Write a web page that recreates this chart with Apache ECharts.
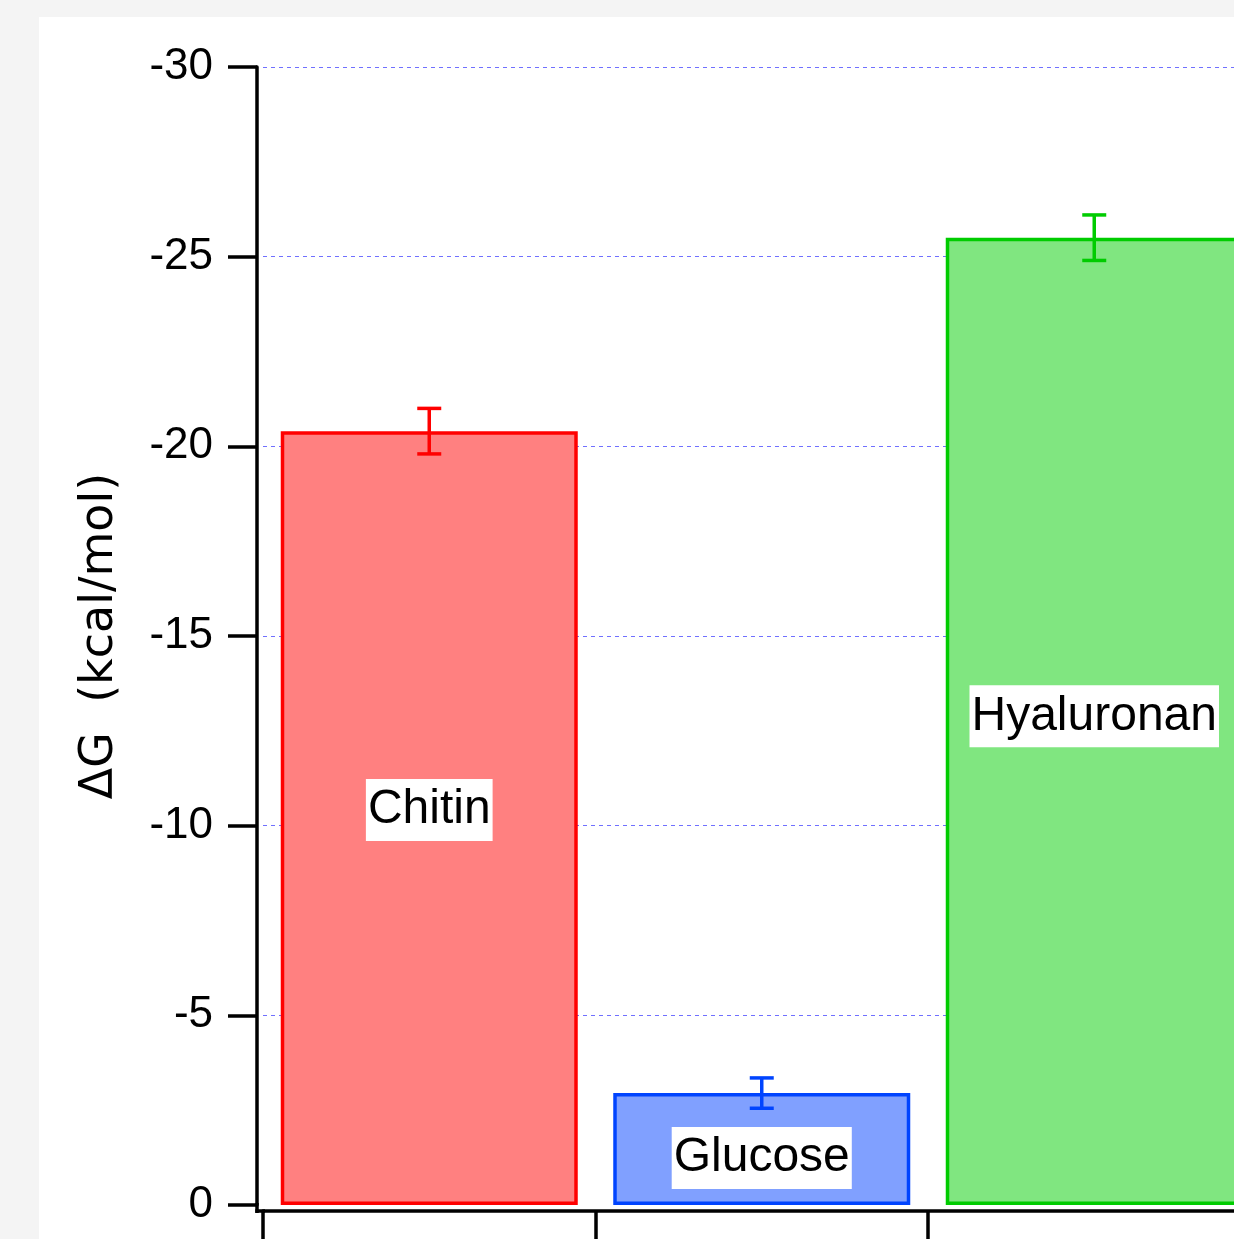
<!DOCTYPE html>
<html>
<head>
<meta charset="utf-8">
<script src="https://cdn.jsdelivr.net/npm/echarts@6/dist/echarts.min.js"></script>
<style>
html,body{margin:0;padding:0;background:#f4f4f4;overflow:hidden;}
#chart{width:1300px;height:1239px;}
</style>
</head>
<body>
<div id="chart"></div>
<script>
// ---- data ----
const categories = ['Chitin', 'Glucose', 'Hyaluronan'];
const deltaG = [-20.4, -2.95, -25.5];
const deltaGErr = [0.6, 0.4, 0.6];
const yTicks = [0, -5, -10, -15, -20, -25, -30];

const fillColors = ['#ff8080', '#80a0ff', '#80e680'];
const lineColors = ['#ff0000', '#0044ff', '#00cc00'];
const labelOffsets = [-8, 9, -5];

const chart = echarts.init(document.getElementById('chart'), null, {renderer: 'canvas'});

const barData = deltaG.map((v, i) => ({
  value: v,
  itemStyle: {color: fillColors[i], borderColor: lineColors[i], borderWidth: 3.5},
  label: {offset: [0, labelOffsets[i]]}
}));
const errData = deltaG.map((v, i) => [i, v + deltaGErr[i], v - deltaGErr[i]]);

const option = {
  backgroundColor: '#f4f4f4',
  animation: false,
  graphic: [
    {type: 'rect', z: -10, silent: true, shape: {x: 39, y: 17, width: 1400, height: 1300}, style: {fill: '#ffffff'}},
    {type: 'line', z: 10, silent: true, shape: {x1: 257, y1: 1203, x2: 257, y2: 1213}, style: {stroke: '#000', lineWidth: 3.5}},
    {type: 'line', z: 10, silent: true, shape: {x1: 255.3, y1: 1211, x2: 265, y2: 1211}, style: {stroke: '#000', lineWidth: 3.5}}
  ],
  grid: {left: 263, top: 67, width: 997.5, height: 1138, containLabel: false},
  xAxis: {
    type: 'category',
    data: categories,
    offset: 6,
    axisLine: {show: true, onZero: false, lineStyle: {color: '#000', width: 3.5}},
    axisTick: {show: true, length: 30, lineStyle: {color: '#000', width: 3.5}},
    axisLabel: {show: false},
    splitLine: {show: false}
  },
  yAxis: {
    type: 'value',
    inverse: true,
    min: -30,
    max: 0,
    interval: 5,
    offset: 6,
    name: 'ΔG  (kcal/mol)',
    nameLocation: 'middle',
    nameGap: 134,
    nameRotate: 90,
    nameTextStyle: {fontFamily: 'DejaVu Sans', fontSize: 46, color: '#000'},
    axisLine: {show: true, onZero: false, lineStyle: {color: '#000', width: 3.5}},
    axisTick: {show: true, length: 29, lineStyle: {color: '#000', width: 3.5}},
    axisLabel: {
      margin: 44,
      fontFamily: 'Liberation Sans',
      fontSize: 44,
      color: '#000',
      formatter: v => (yTicks.indexOf(v) >= 0 ? String(v) : '')
    },
    splitLine: {show: true, showMaxLine: false, lineStyle: {color: '#7070ff', width: 1, type: [4, 4]}}
  },
  series: [
    {
      type: 'bar',
      data: barData,
      barWidth: 297,
      z: 2,
      label: {
        show: true,
        position: 'inside',
        formatter: p => categories[p.dataIndex],
        fontFamily: 'Liberation Sans',
        fontSize: 48,
        lineHeight: 56,
        color: '#000',
        backgroundColor: '#ffffff',
        padding: [3, 2]
      }
    },
    {
      type: 'custom',
      z: 5,
      data: errData,
      renderItem: function (params, api) {
        const i = api.value(0);
        const p1 = api.coord([i, api.value(1)]);
        const p2 = api.coord([i, api.value(2)]);
        const hw = 12;
        const st = {stroke: lineColors[i], lineWidth: 3.5, fill: 'none'};
        return {
          type: 'group',
          children: [
            {type: 'line', shape: {x1: p1[0], y1: p1[1], x2: p2[0], y2: p2[1]}, style: st},
            {type: 'line', shape: {x1: p1[0] - hw, y1: p1[1], x2: p1[0] + hw, y2: p1[1]}, style: st},
            {type: 'line', shape: {x1: p2[0] - hw, y1: p2[1], x2: p2[0] + hw, y2: p2[1]}, style: st}
          ]
        };
      }
    }
  ]
};
chart.setOption(option);
</script>
</body>
</html>
